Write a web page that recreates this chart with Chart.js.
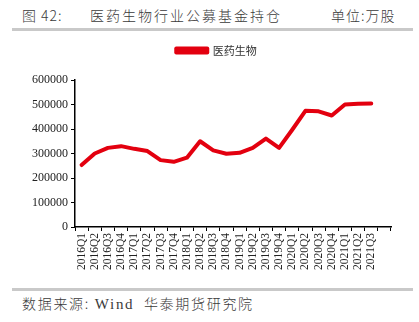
<!DOCTYPE html>
<html>
<head>
<meta charset="utf-8">
<script src="https://cdn.jsdelivr.net/npm/chart.js@4"></script>
<style>
  body { margin: 0; background: #fff; width: 419px; height: 322px; overflow: hidden; position: relative; }
  .txt { position: absolute; font-family: "Noto Sans CJK SC", serif; font-weight: 300; color: #3a3a3a; white-space: nowrap; }
  .rule { position: absolute; left: 12px; width: 401px; height: 3px; background: #c9c9c9; }
  #chartBox { position: absolute; left: 0; top: 0; width: 419px; height: 285px; }
</style>
</head>
<body>
<div class="txt" style="left:22px; top:5px; font-size:14px; letter-spacing:1px;">图 42:</div>
<div class="txt" style="left:90px; top:5px; font-size:14px; letter-spacing:2px;">医药生物行业公募基金持仓</div>
<div class="txt" style="left:331px; top:5px; font-size:14px; letter-spacing:1px;">单位:万股</div>
<div class="rule" style="top:28px;"></div>
<div id="chartBox"><canvas id="myChart"></canvas></div>
<div class="rule" style="top:288px;"></div>
<div class="txt" style="left:22px; top:293px; font-size:14px; letter-spacing:1.7px;">数据来源: <span style="font-family:'Liberation Serif',serif;font-size:15px;font-weight:400;">Wind</span>&nbsp; 华泰期货研究院</div>

<script>
// quarters (last slot is empty, as in the source chart)
const quarters = ['2016Q1','2016Q2','2016Q3','2016Q4','2017Q1','2017Q2','2017Q3','2017Q4',
    '2018Q1','2018Q2','2018Q3','2018Q4','2019Q1','2019Q2','2019Q3','2019Q4',
    '2020Q1','2020Q2','2020Q3','2020Q4','2021Q1','2021Q2','2021Q3',''];
// holdings, 万股
const holdings = [253000, 300000, 323000, 330000, 319000, 310000, 273000, 266000,
    283000, 350000, 313000, 299000, 303000, 323000, 361000, 323000,
    397000, 474000, 472000, 455000, 500000, 503000, 504000, null];
const seriesName = '医药生物';
const yTicks = [0, 100000, 200000, 300000, 400000, 500000, 600000];

const lineRed = '#e3000f';
const serifFamily = "'Liberation Serif', 'Times New Roman', serif";

// extra space between the legend and the plot, and nudge the legend right
const legendGap = {
    id: 'legendGap',
    beforeInit: function(chart) {
        const legend = chart.legend;
        if (!legend) return;
        const fit = legend.fit;
        legend.fit = function() {
            fit.bind(legend)();
            this.height += 14;
        };
    },
    afterLayout: function(chart) {
        if (chart.legend) {
            chart.legend.left += 21;
            chart.legend.right += 21;
        }
    }
};

const ctx = document.getElementById('myChart');
const myChart = new Chart(ctx, {
    type: 'line',
    data: {
        labels: quarters,
        datasets: [{
            label: seriesName,
            data: holdings,
            borderColor: lineRed,
            backgroundColor: lineRed,
            borderWidth: 4,
            borderJoinStyle: 'round',
            borderCapStyle: 'round',
            pointRadius: 0,
            tension: 0
        }]
    },
    options: {
        responsive: true,
        maintainAspectRatio: false,
        animation: false,
        layout: { padding: { left: 0, right: 28, top: 26, bottom: 0 } },
        plugins: {
            tooltip: { enabled: false },
            legend: {
                position: 'top',
                labels: {
                    boxWidth: 31,
                    boxHeight: 4,
                    padding: 19,
                    color: '#333',
                    font: { family: "'Noto Sans CJK SC', sans-serif", size: 11 }
                }
            }
        },
        scales: {
            x: {
                offset: true,
                grid: { display: true, drawOnChartArea: false, offset: true, color: '#000', tickLength: 4 },
                border: { color: '#000', width: 1.5 },
                ticks: {
                    autoSkip: false,
                    maxRotation: 90,
                    minRotation: 90,
                    padding: 2,
                    color: '#222',
                    font: { family: serifFamily, size: 11.5 }
                },
                afterFit: function(scale) { scale.height = 58; }
            },
            y: {
                min: 0,
                max: 600000,
                afterBuildTicks: function(scale) {
                    scale.ticks = yTicks.map(v => ({ value: v }));
                },
                grid: { display: true, drawOnChartArea: false, color: '#000', tickLength: 4 },
                border: { color: '#000', width: 1.5 },
                ticks: {
                    padding: 3,
                    color: '#222',
                    font: { family: serifFamily, size: 12 },
                    callback: function(value) { return String(value); }
                },
                afterFit: function(scale) { scale.width = 75; }
            }
        }
    },
    plugins: [legendGap]
});
</script>
</body>
</html>
